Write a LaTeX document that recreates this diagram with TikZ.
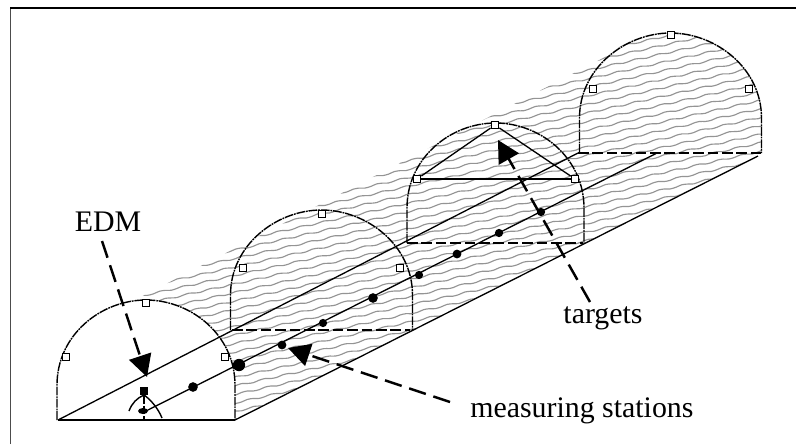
\documentclass[tikz,border=0pt]{standalone}
\usepackage{fontspec}
\setmainfont{Liberation Serif}
\usetikzlibrary{arrows.meta}
\tikzset{
  x=0.02cm,y=-0.02cm,
  archline/.style={line width=0.8pt,dash pattern=on 5pt off 0.5pt on 1pt off 0.5pt},
  solidthin/.style={line width=0.75pt},
  baseline/.style={line width=1pt},
  dashbase/.style={line width=0.9pt,dash pattern=on 6pt off 2.2pt},
  hatch/.style={line width=0.65pt,black!42},
  target/.style={draw,line width=1pt,fill=white,minimum size=4pt,inner sep=0pt,rectangle},
  station/.style={circle,fill=black,inner sep=0pt,minimum size=4.7pt},
  bigstation/.style={circle,fill=black,inner sep=0pt,minimum size=7pt},
  pointer/.style={line width=1.4pt,dash pattern=on 10pt off 4.5pt,-{Triangle[length=12.5pt,width=13pt]}},
  label/.style={inner sep=0pt,anchor=base,font=\fontsize{17pt}{19pt}\selectfont},
}
\newcommand{\archpath}[3]{(#1-#3,#2) -- (#1-#3,#2-35) .. controls (#1-#3,#2-85) and (#1-45,#2-120) .. (#1,#2-120) .. controls (#1+45,#2-120) and (#1+#3,#2-85) .. (#1+#3,#2-35) -- (#1+#3,#2)}
\begin{document}
\begin{tikzpicture}
\useasboundingbox (0,0) rectangle (796,444);
\fill[white] (0,0) rectangle (796,444);
% frame
\coordinate (fa) at (10.5,444); \coordinate (fb) at (10.5,8); \coordinate (fc) at (796,8);
\draw[line width=0.6pt,black!70] (fa) -- (fb);
\draw[line width=0.7pt] (fb) -- (fc);
% hatching
\begin{scope}
\clip (133,301) -- (146,300) .. controls (191,300) and (235,335) .. (235,385) -- (235,420) -- (762,153) -- (762,118)
  .. controls (762,68) and (716,33) .. (671,33) .. controls (645,33) and (620,44) .. (607,56) -- cycle;
\foreach \k in {0,...,90} {
  \pgfmathsetmacro{\ph}{mod(\k*70,360)}
  \pgfmathsetmacro{\yo}{608-\k*8.5}
  \draw[hatch] plot[domain=130:770,samples=110,smooth] (\x,{\yo-0.22*(\x-230)+0.9*sin(\x*16+\ph)});
}
\end{scope}
% arches
\draw[archline] \archpath{146}{420}{89};
\draw[archline] \archpath{321.5}{330}{91};
\draw[archline] \archpath{495.5}{243}{88.5};
\draw[archline] \archpath{670.5}{153}{91};
% base lines
\coordinate (b1l) at (58,420); \coordinate (b1r) at (235,420);
\coordinate (b2l) at (232,330); \coordinate (b2r) at (410,330);
\coordinate (b3l) at (407,243); \coordinate (b3r) at (583,243);
\coordinate (b4l) at (578,153); \coordinate (b4r) at (761,153);
\draw[baseline] (b1l) -- (b1r);
\draw[dashbase] (b2l) -- (b2r);
\draw[dashbase] (b3l) -- (b3r);
\draw[dashbase] (b4l) -- (b4r);
\coordinate (l1) at (758,156);
\draw[solidthin] (b1r) -- (l1);
% axis lines
\coordinate (s0) at (146,411); \coordinate (s9) at (657,153);
\draw[solidthin] (b1l) -- (b4l);
\draw[solidthin] (s0) -- (s9);
% targets
\node[target] (t1) at (66,357) {};
\node[target] (t2) at (225,357) {};
\node[target] (t3) at (146,303) {};
\node[target] (t4) at (243,268) {};
\node[target] (t5) at (400,268) {};
\node[target] (t6) at (322,214) {};
\node[target] (t7) at (417,179) {};
\node[target] (t8) at (575,179) {};
\node[target] (t9) at (495,125) {};
\node[target] (t10) at (593,89) {};
\node[target] (t11) at (749,89) {};
\node[target] (t12) at (671,35) {};
% triangle between targets
\draw[line width=1pt] (t7) -- (t8);
\draw[solidthin] (t7) -- (t9) -- (t8);
% stations
\node[bigstation] (d1) at (239,365) {};
\node[station,minimum size=5.5pt] (d0) at (193,387) {};
\node[station,minimum size=5pt] (d2) at (282,345) {};
\node[station] (d3) at (323,323) {};
\node[station,minimum size=5.5pt] (d4) at (373,298) {};
\node[station] (d5) at (419,275) {};
\node[station,minimum size=5pt] (d6) at (457,254) {};
\node[station] (d7) at (499,233) {};
\node[station] (d8) at (541,212) {};
% EDM instrument
\coordinate (i2) at (144,420);
\coordinate (i3) at (129,411); \coordinate (i4) at (162,418);
\fill (140,387) rectangle (148,395);
\draw[line width=1.2pt,dash pattern=on 5pt off 1pt] (144,395) -- (i2);
\draw[line width=0.8pt] (i3) .. controls (132,403) and (137,398) .. (144,395);
\draw[line width=0.8pt] (144,395) .. controls (150,399) and (158,408) .. (i4);
\fill (143,411) ellipse (5 and 3);
% labels
\node[label] (edm) at (108,231) {EDM};
\node[label] (tg) at (603,323) {targets};
\node[label,anchor=base west] (ms) at (470,417) {measuring stations};
% pointers
\coordinate (p1a) at (102,241); \coordinate (p1b) at (147,377);
\coordinate (p2a) at (590,302); \coordinate (p2b) at (498,140);
\coordinate (p3a) at (450,402); \coordinate (p3b) at (288,348);
\draw[pointer] (p1a) -- (p1b);
\draw[pointer] (p2a) -- (p2b);
\draw[pointer] (p3a) -- (p3b);
\end{tikzpicture}
\end{document}
